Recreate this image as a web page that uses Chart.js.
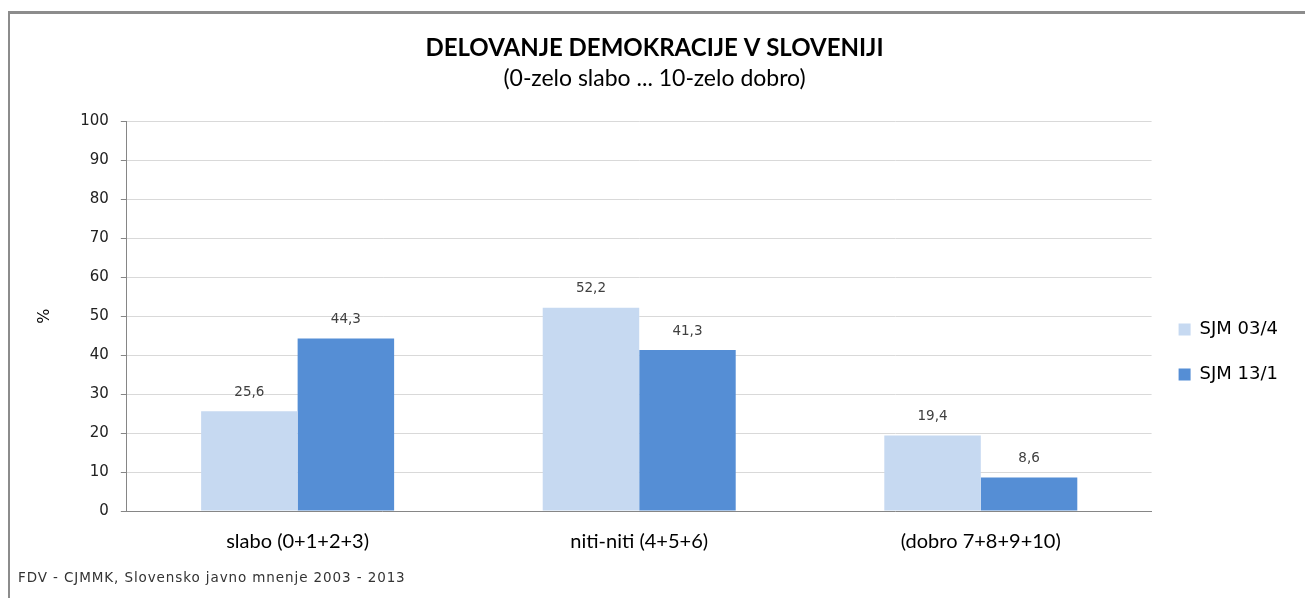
<html>
<head>
<meta charset="utf-8">
<script src="https://cdn.jsdelivr.net/npm/chart.js@4.4.0/dist/chart.umd.min.js"></script>
<style>
	body { margin: 0; background: #fff; }
	#wrap { position: absolute; left: 0; top: 0; width: 1305px; height: 598px; }
	#frame { position: absolute; left: 8px; top: 11px; width: 1297px; height: 587px;
		border-top: 3px solid #8c8c8c; border-left: 2px solid #8c8c8c; box-sizing: border-box; }
	#note { position: absolute; left: 18px; top: 569px; font: 13.5px "DejaVu Sans", sans-serif;
		color: #333; letter-spacing: 0.9px; }
</style>
</head>
<body>
<div id="wrap">
	<canvas id="chart" width="1305" height="598"></canvas>
	<div id="frame"></div>
	<div id="note">FDV - CJMMK, Slovensko javno mnenje 2003 - 2013</div>
</div>
<script>
	var categories = ["slabo (0+1+2+3)", "niti-niti (4+5+6)", "(dobro 7+8+9+10)"];
	var sjm03 = [25.6, 52.2, 19.4];
	var sjm13 = [44.3, 41.3, 8.6];
	var seriesNames = ["SJM 03/4", "SJM 13/1"];

	var narrow = "Lato, 'Open Sans', sans-serif";
	var wide = "'DejaVu Sans', Verdana, sans-serif";

	// value labels above bars, decimal comma like the original
	var valueLabels = {
		id: 'valueLabels',
		afterDatasetsDraw: function(chart) {
			var ctx = chart.ctx;
			ctx.save();
			ctx.font = "13.5px " + wide;
			ctx.fillStyle = '#404040';
			ctx.textAlign = 'center';
			ctx.textBaseline = 'middle';
			chart.data.datasets.forEach(function(ds, i) {
				chart.getDatasetMeta(i).data.forEach(function(bar, j) {
					ctx.fillText(ds.data[j].toFixed(1).replace('.', ','), bar.x, bar.y - 19);
				});
			});
			ctx.restore();
		}
	};

	new Chart(document.getElementById('chart'), {
		type: 'bar',
		data: {
			labels: categories,
			datasets: [
				{ label: seriesNames[0], data: sjm03, backgroundColor: '#c6d9f1' },
				{ label: seriesNames[1], data: sjm13, backgroundColor: '#558ed5' }
			]
		},
		options: {
			responsive: false,
			animation: false,
			layout: { padding: { left: 21, right: 17, top: 23, bottom: 33 } },
			datasets: { bar: { barPercentage: 1, categoryPercentage: 0.565 } },
			plugins: {
				title: {
					display: true,
					text: 'DELOVANJE DEMOKRACIJE V SLOVENIJI',
					color: '#000',
					font: { family: narrow, size: 24, weight: 'bold' },
					padding: { top: 11, bottom: 0 }
				},
				subtitle: {
					display: true,
					text: '(0-zelo slabo ... 10-zelo dobro)',
					color: '#000',
					font: { family: narrow, size: 23, weight: 'normal' },
					padding: { top: 2, bottom: 29 }
				},
				legend: {
					position: 'right',
					title: { display: true, text: ' ', font: { size: 10 }, padding: { top: 104, bottom: 0 } },
					labels: {
						boxWidth: 12, boxHeight: 12, padding: 27, color: '#000',
						font: { family: wide, size: 18 }
					}
				},
				tooltip: { enabled: false }
			},
			scales: {
				y: {
					min: 0, max: 100,
					ticks: { stepSize: 10, padding: 12, color: '#222', font: { family: wide, size: 15 } },
					grid: { color: '#d9d9d9', tickLength: 6, tickColor: '#868686' },
					border: { color: '#868686' },
					title: { display: true, text: '%', color: '#000', font: { family: wide, size: 16 }, padding: 14 }
				},
				x: {
					ticks: { color: '#000', padding: 11, font: { family: narrow, size: 20, weight: 'normal' } },
					grid: { display: false },
					border: { color: '#868686' }
				}
			}
		},
		plugins: [valueLabels]
	});
</script>
</body>
</html>
